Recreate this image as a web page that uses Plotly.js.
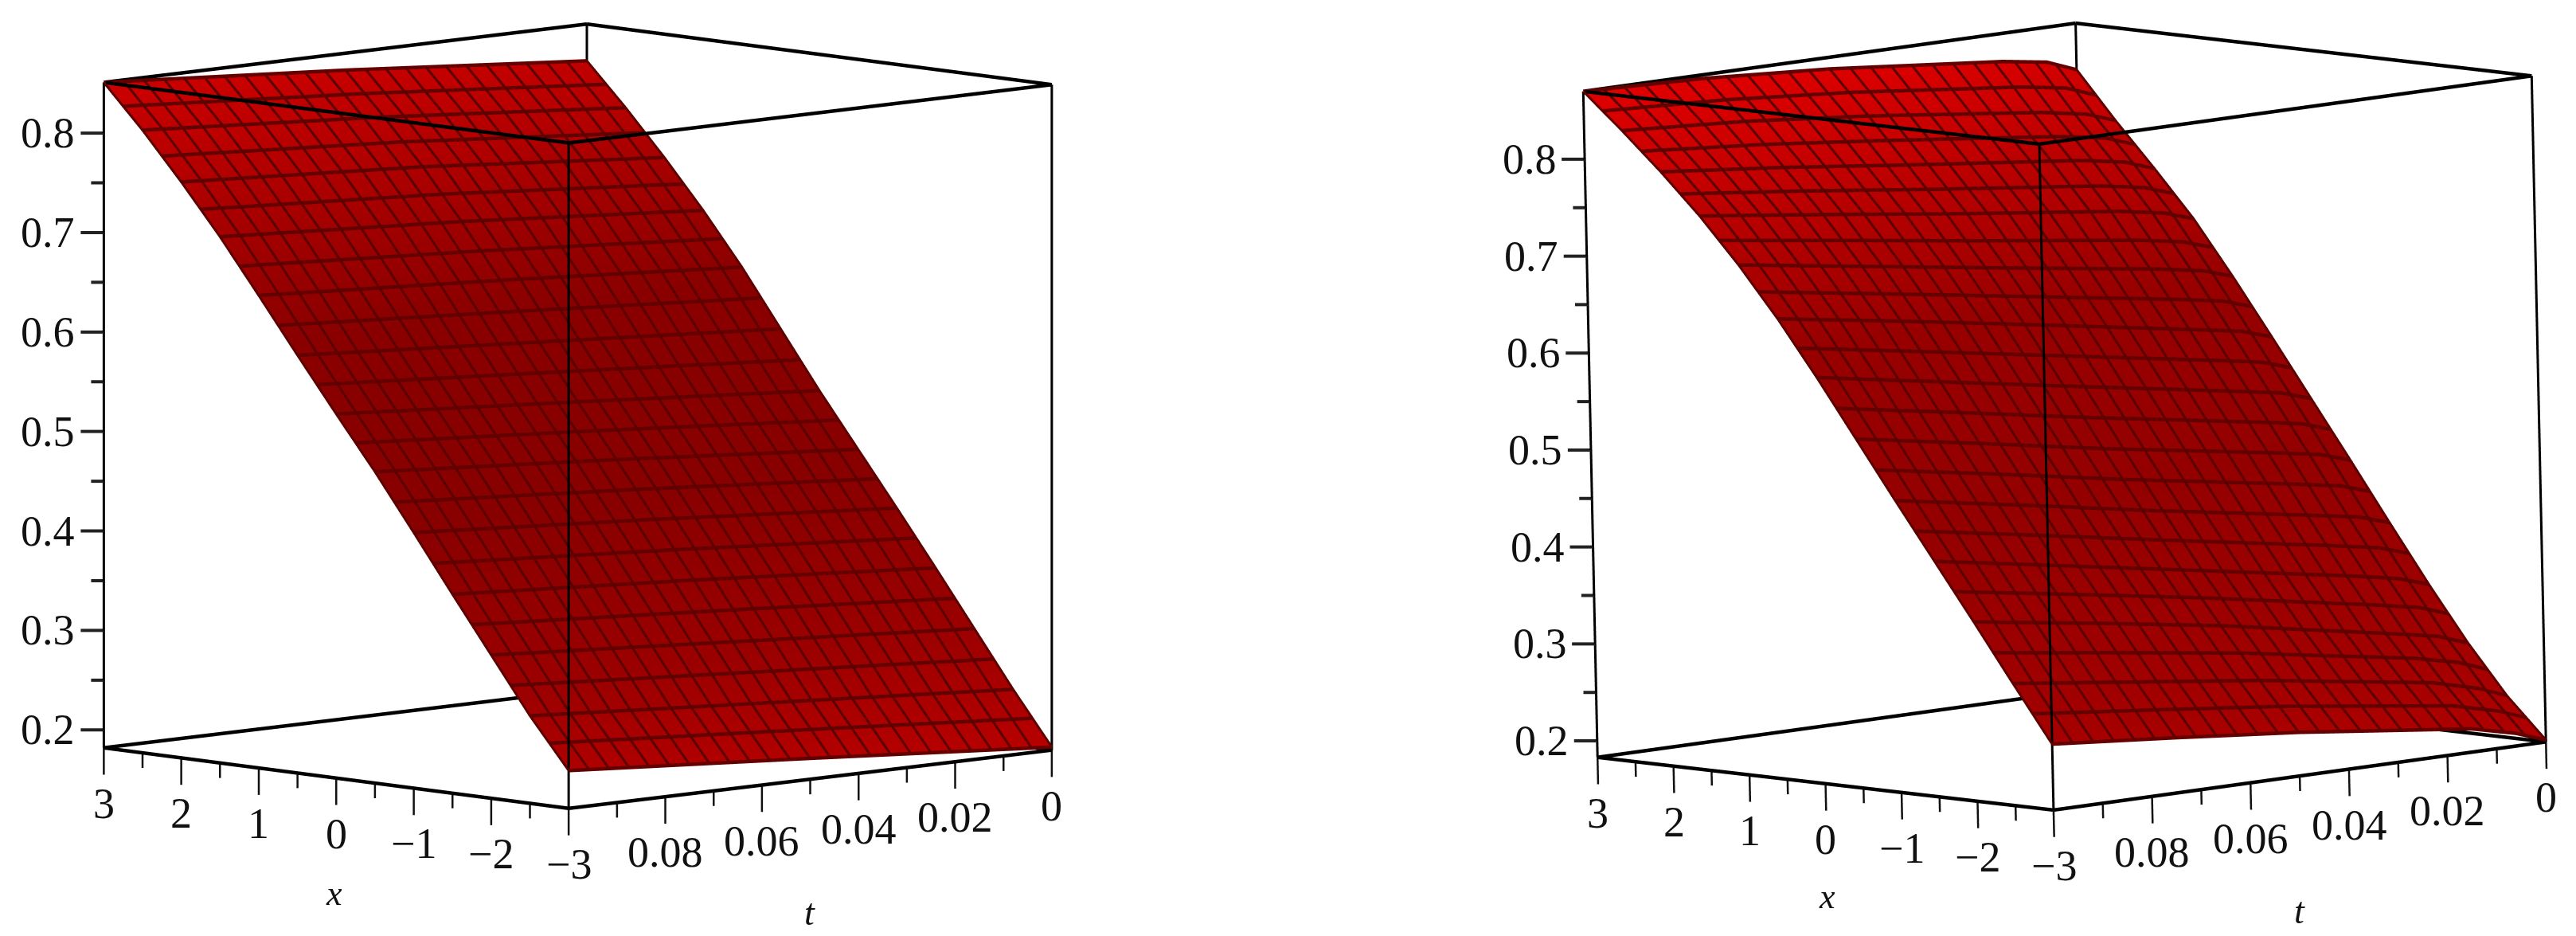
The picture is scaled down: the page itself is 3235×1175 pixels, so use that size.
<!DOCTYPE html>
<html>
<head>
<meta charset="utf-8">
<script src="https://cdn.plot.ly/plotly-3.0.1.min.js"></script>
<style>html,body{margin:0;padding:0;background:#fff}#chart{width:3235px;height:1175px;filter:blur(0.6px)}</style>
</head>
<body>
<div id="chart"></div>
<script>
// ---- data ----
const xGrid = [3, 2.5, 2, 1.5, 1, 0.5, 0, -0.5, -1, -1.5, -2, -2.5, -3];

const leftT = [0, 0.05, 0.1];
const leftZt0   = [0.814, 0.772, 0.727, 0.679, 0.627, 0.570, 0.513, 0.459, 0.405, 0.350, 0.294, 0.238, 0.185];
const leftZt05  = [0.834, 0.792, 0.747, 0.697, 0.643, 0.586, 0.531, 0.478, 0.423, 0.367, 0.310, 0.254, 0.203];
const leftZt10  = [0.851, 0.808, 0.761, 0.711, 0.657, 0.602, 0.548, 0.495, 0.439, 0.382, 0.326, 0.270, 0.220];

const rightT = [0, 0.006, 0.015, 0.05, 0.075, 0.1];
const rightZt0   = [0.822, 0.774, 0.729, 0.682, 0.627, 0.569, 0.510, 0.451, 0.391, 0.332, 0.276, 0.226, 0.185];
const rightZt006 = [0.834, 0.785, 0.740, 0.692, 0.637, 0.579, 0.520, 0.461, 0.401, 0.342, 0.287, 0.238, 0.196];
const rightZt015 = [0.841, 0.793, 0.748, 0.700, 0.645, 0.587, 0.528, 0.469, 0.409, 0.351, 0.296, 0.250, 0.207];
const rightZt05  = [0.858, 0.814, 0.768, 0.722, 0.671, 0.617, 0.558, 0.498, 0.439, 0.382, 0.329, 0.277, 0.228];
const rightZt075 = [0.866, 0.826, 0.783, 0.739, 0.690, 0.638, 0.580, 0.521, 0.462, 0.404, 0.349, 0.293, 0.240];
const rightZt10  = [0.870, 0.834, 0.796, 0.755, 0.709, 0.658, 0.602, 0.543, 0.484, 0.426, 0.368, 0.309, 0.251];

const xMajor = [3, 2, 1, 0, -1, -2, -3];
const xMinor = [2.5, 1.5, 0.5, -0.5, -1.5, -2.5];
const tMajor = [0, 0.02, 0.04, 0.06, 0.08];
const tMinor = [0.01, 0.03, 0.05, 0.07, 0.09];
const zMajor = [0.2, 0.3, 0.4, 0.5, 0.6, 0.7, 0.8];
const zMinor = [0.25, 0.35, 0.45, 0.55, 0.65, 0.75];
const xLabels = ['3', '2', '1', '0', '\u22121', '\u22122', '\u22123'];
const tLabels = ['0', '0.02', '0.04', '0.06', '0.08'];
const zLabels = ['0.2', '0.3', '0.4', '0.5', '0.6', '0.7', '0.8'];
const meshCount = 25;

const leftScale = [[0, '#b80000'], [0.16, '#9c0000'], [0.4, '#880000'], [0.65, '#8a0000'], [0.82, '#a80000'], [1, '#cc0000']];
const rightScale = [[0, '#b00000'], [0.16, '#a00000'], [0.4, '#940000'], [0.65, '#980000'], [0.82, '#b80000'], [1, '#e00000']];

// ---- view settings ----
const panels = [
  {scene: 'scene',  domain: [0, 0.45],   t: leftT,  z: [leftZt0, leftZt05, leftZt10], zMin: 0.182, zMax: 0.851, cs: leftScale,
   phi: 136.1, eps: 7.2, roll: 0, scale: 842, cx: 725.5, cy: 522.5, xTitleShift: [-3, -145], tTitleShift: [0, -167]},
  {scene: 'scene2', domain: [0.585, 1],  t: rightT, z: [rightZt0, rightZt006, rightZt015, rightZt05, rightZt075, rightZt10], zMin: 0.183, zMax: 0.870, cs: rightScale,
   phi: 137.35, eps: 7.27, roll: 1.23, scale: 843, cx: 2593, cy: 523, xTitleShift: [2, -142], tTitleShift: [0, -169]}
];
const W = 3235, H = 1175, rad = Math.PI / 180;
const traces = [], layout = {width: W, height: H, margin: {l: 0, r: 0, t: 0, b: 0}, paper_bgcolor: '#fff', showlegend: false};
const serif = 'Liberation Serif, Times New Roman, serif';

panels.forEach(p => {
  const zr = p.zMax - p.zMin;
  const k = p.scale / (H / 2);
  const xR = [-3.05, 3.2], tR = [0, 0.103], zR = [p.zMin - 0.06, p.zMax + 0.003];
  const aspect = {x: k * (xR[1] - xR[0]) / 6, y: k * (tR[1] - tR[0]) / 0.1, z: k * (zR[1] - zR[0]) / zr};
  const phi = p.phi * rad, eps = p.eps * rad, a = p.roll * rad;
  const dir = [Math.cos(phi) * Math.cos(eps), Math.sin(phi) * Math.cos(eps), Math.sin(eps)];
  const r0 = [-Math.sin(phi), Math.cos(phi), 0];
  const u0 = [-Math.cos(phi) * Math.sin(eps), -Math.sin(phi) * Math.sin(eps), Math.cos(eps)];
  const up = u0.map((v, i) => v * Math.cos(a) + r0[i] * Math.sin(a));
  const rt = r0.map((v, i) => v * Math.cos(a) - u0[i] * Math.sin(a));
  const c0 = [((0 - xR[0]) / (xR[1] - xR[0]) - 0.5) * aspect.x,
              ((0.05 - tR[0]) / (tR[1] - tR[0]) - 0.5) * aspect.y,
              (((p.zMin + p.zMax) / 2 - zR[0]) / (zR[1] - zR[0]) - 0.5) * aspect.z];
  const viewCx = (p.domain[0] + p.domain[1]) / 2 * W;
  const ox = (p.cx - viewCx) / (H / 2), oy = (H / 2 - p.cy) / (H / 2);
  const c = c0.map((v, i) => v - ox * rt[i] - oy * up[i]);
  const D = 4;
  const eye = c.map((v, i) => v + D * dir[i]);

  traces.push({type: 'surface', scene: p.scene, x: xGrid, y: p.t, z: p.z, surfacecolor: p.z,
    cmin: p.zMin, cmax: p.zMax, colorscale: p.cs, showscale: false, hoverinfo: 'skip',
    lighting: {ambient: 1, diffuse: 0, specular: 0, roughness: 1, fresnel: 0},
    contours: {x: {show: false}, y: {show: false}, z: {show: false}}});

  const line = (xs, ys, zs, color, width) => traces.push({type: 'scatter3d', scene: p.scene, mode: 'lines', x: xs, y: ys, z: zs,
    line: {color, width}, hoverinfo: 'skip'});

  // mesh lines lie on the drawn surface: nudged towards the viewer so they stay in front of it
  const lift = 0.005;
  const lx = v => v + dir[0] * lift * 6, lt = v => v + dir[1] * lift * 0.1, lz = v => v + dir[2] * lift * zr;
  const span = (arr, v) => { let i = 0; while (i < arr.length - 2 && (arr[i + 1] - arr[i]) * (v - arr[i + 1]) > 0) i++; return [i, (v - arr[i]) / (arr[i + 1] - arr[i])]; };
  for (let n = 0; n < meshCount; n++) {
    const xv = -3 + 6 * n / (meshCount - 1);
    const [i, f] = span(xGrid, xv);
    line(p.t.map(() => lx(xv)), p.t.map(lt), p.z.map(row => lz(row[i] + (row[i + 1] - row[i]) * f)), '#640000', 9);
    const tv = 0.1 * n / (meshCount - 1);
    const [j, g] = span(p.t, tv);
    line(xGrid.map(lx), xGrid.map(() => lt(tv)), xGrid.map((_, q) => lz(p.z[j][q] + (p.z[j + 1][q] - p.z[j][q]) * g)), '#5c0000', 6);
  }

  const X0 = -3, X1 = 3, T0 = 0, T1 = 0.1, Z0 = p.zMin, Z1 = p.zMax;
  const seg = (a1, b1, c1, a2, b2, c2, col, w) => line([a1, a2], [b1, b2], [c1, c2], col, w);
  [Z0, Z1].forEach(z => {
    seg(X1, T1, z, X0, T1, z, '#000', 9); seg(X0, T1, z, X0, T0, z, '#000', 9);
    seg(X0, T0, z, X1, T0, z, '#000', 9); seg(X1, T0, z, X1, T1, z, '#000', 9);
  });
  [[X1, T1], [X0, T1], [X0, T0], [X1, T0]].forEach(q => seg(q[0], q[1], Z0, q[0], q[1], Z1, '#000', 6));
  const dMaj = 34 / 841 * zr, dMin = 19 / 841 * zr;
  xMajor.forEach(v => seg(v, T1, Z0, v, T1, Z0 - dMaj, '#111', 5));
  xMinor.forEach(v => seg(v, T1, Z0, v, T1, Z0 - dMin, '#111', 5));
  tMajor.forEach(v => seg(X0, v, Z0, X0, v, Z0 - dMaj, '#111', 5));
  tMinor.forEach(v => seg(X0, v, Z0, X0, v, Z0 - dMin, '#111', 5));
  const out = (z, len) => { const l = len / p.scale; seg(X1, T1, z, X1 - rt[0] * l * 6, T1 - rt[1] * l * 0.1, z - rt[2] * l * zr, '#222', 8); };
  zMajor.forEach(z => out(z, 29));
  zMinor.forEach(z => out(z, 16));

  const ann = [];
  const note = (x, y, z, text, dx, dy, size, italic) => ann.push({x, y, z, text: italic ? '<i>' + text + '</i>' : text, showarrow: false,
    xanchor: 'center', yanchor: 'middle', xshift: dx, yshift: dy, font: {family: serif, size, color: '#111'}});
  xMajor.forEach((v, i) => note(v, T1, Z0, xLabels[i], 0, -70, 54));
  tMajor.forEach((v, i) => note(X0, v, Z0, tLabels[i], 0, -70, 54));
  zMajor.forEach((v, i) => note(X1, T1, v, zLabels[i], -70, 0, 54));
  note(0, T1, Z0, 'x', p.xTitleShift[0], p.xTitleShift[1], 44, true);
  note(X0, 0.05, Z0, 't', p.tTitleShift[0], p.tTitleShift[1], 46, true);

  const hidden = rng => ({visible: false, range: rng, autorange: false});
  layout[p.scene] = {
    domain: {x: p.domain, y: [0, 1]},
    xaxis: hidden(xR), yaxis: hidden(tR), zaxis: hidden(zR),
    aspectmode: 'manual', aspectratio: aspect,
    bgcolor: '#fff',
    camera: {projection: {type: 'orthographic'},
      eye: {x: eye[0], y: eye[1], z: eye[2]},
      center: {x: c[0], y: c[1], z: c[2]},
      up: {x: up[0], y: up[1], z: up[2]}},
    annotations: ann
  };
});

Plotly.newPlot('chart', traces, layout, {displayModeBar: false});
</script>
</body>
</html>
